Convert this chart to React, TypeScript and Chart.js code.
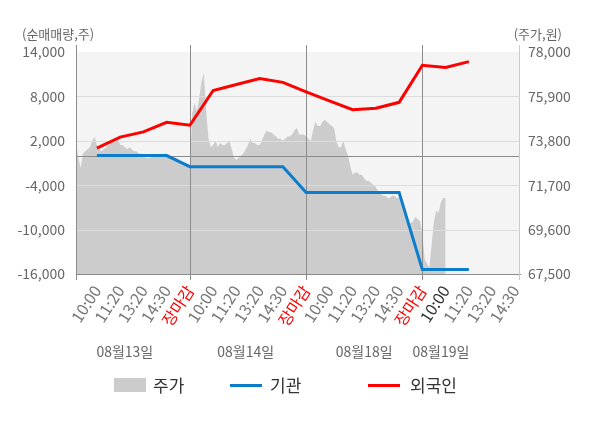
import { useEffect, useRef } from "react";
import { Chart, registerables } from "chart.js";

Chart.register(...registerables);

const FONT = '"Noto Sans CJK KR", "Noto Sans", sans-serif';

// x axis: ticks sit at 1..19, one day = 5 tick steps
const timeLabels = [
  "10:00", "11:20", "13:20", "14:30", "장마감",
  "10:00", "11:20", "13:20", "14:30", "장마감",
  "10:00", "11:20", "13:20", "14:30", "장마감",
  "10:00", "11:20", "13:20", "14:30",
];
const currentTick = 16;
const dayLabels = ["08월13일", "08월14일", "08월18일", "08월19일"];
const dayLabelAt = [2.2, 7.4, 12.5, 15.8];
const dayBreaks = [5, 10, 15];

const volTicks = [-16000, -10000, -4000, 2000, 8000, 14000];
const priceTicks = [67500, 69600, 71700, 73800, 75900, 78000];

// net buying (shares), one value per tick 1..17
const institution = [
  0, 0, 0, 0, -1500, -1500, -1500, -1500, -1500, -5000, -5000, -5000, -5000, -5000,
  -15400, -15400, -15400,
];
const foreign = [
  1000, 2500, 3200, 4500, 4100, 8800, 9600, 10400, 9900, 8600, 7400, 6200, 6400, 7200,
  12200, 11900, 12700,
];

// share price, sampled every 0.1 tick step
const price0813 = [
  73700, 73000, 72500, 73200, 73300, 73400, 73500, 73800, 74000, 73600,
  73400, 73300, 73400, 73500, 73600, 73700, 73800, 73800, 73900, 73600,
  73600, 73500, 73400, 73500, 73400, 73300, 73300, 73200, 73200, 73100,
  73000, 73000, 73000, 73100, 73100, 73100, 73100, 73100, 73200, 73200,
  73100, 73000, 73000, 73000, 72900, 72800, 72700, 72700, 72600, 72600,
];
const price0814 = [
  75100, 75600, 75200, 75800, 76600, 77000, 75200, 73900, 73500, 73600,
  73800, 73500, 73700, 73600, 73600, 73700, 73800, 73400, 73000, 72900,
  73000, 73100, 73200, 73400, 73600, 73900, 73700, 73700, 73600, 73600,
  73800, 74100, 74300, 74200, 74200, 74100, 74000, 73900, 73900, 73800,
  73900, 74000, 74000, 74100, 74300, 74400, 74100, 74100, 74100, 74000,
];
const price0818 = [
  73900, 73800, 74300, 74700, 74500, 74500, 74700, 74800, 74700, 74600,
  74500, 74400, 73800, 73500, 73500, 73800, 73400, 73100, 72600, 72200,
  72300, 72300, 72200, 72200, 72000, 71900, 71900, 71800, 71700, 71600,
  71400, 71300, 71200, 71200, 71100, 71100, 71200, 71200, 71100, 71100,
  70800, 70400, 70100, 69900, 69900, 70000, 70200, 70100, 70000, 69400,
];
const price0819 = [68200, 68000, 67800, 68900, 70000, 70500, 70400, 70900, 71100, 71100];

const priceDays = [price0813, price0814, price0818, price0819];

const legendItems = [
  { label: "주가", color: "#cccccc", kind: "box", x: 114, tx: 153 },
  { label: "기관", color: "#0b7dcb", kind: "line", x: 230, tx: 270 },
  { label: "외국인", color: "#ff0000", kind: "line", x: 368, tx: 410 },
];

const decor = {
  id: "decor",
  beforeDraw(chart: any) {
    const { ctx, chartArea: a } = chart;
    ctx.save();
    ctx.fillStyle = "#f4f4f4";
    ctx.fillRect(a.left, a.top, a.right - a.left, a.bottom - a.top);
    ctx.restore();
  },
  afterDatasetDraw(chart: any, args: any) {
    if (args.index !== 2) return;
    const { ctx, chartArea: a, scales } = chart;
    const line = (x1: number, y1: number, x2: number, y2: number) => {
      ctx.beginPath();
      ctx.moveTo(x1, y1);
      ctx.lineTo(x2, y2);
      ctx.stroke();
    };
    ctx.save();
    ctx.lineWidth = 1;
    ctx.strokeStyle = "#dcdcdc";
    volTicks.slice(1, -1).forEach((v) => {
      const y = Math.round(scales.y.getPixelForValue(v)) + 0.5;
      line(a.left, y, a.right, y);
    });
    ctx.strokeStyle = "#8c8c8c";
    const y0 = Math.round(scales.y.getPixelForValue(0)) + 0.5;
    line(a.left, y0, a.right, y0);
    [a.left, ...dayBreaks.map((v) => scales.x.getPixelForValue(v))].forEach((px) => {
      const x = Math.round(px) + 0.5;
      line(x, a.top - 7, x, a.bottom + 6);
    });
    ctx.strokeStyle = "#cccccc";
    const xr = Math.round(a.right) - 0.5;
    line(xr, a.top - 7, xr, a.bottom + 6);
    ctx.restore();
  },
  afterDraw(chart: any) {
    const { ctx, scales } = chart;
    ctx.save();
    ctx.textBaseline = "middle";
    ctx.fillStyle = "#666666";
    ctx.font = `13px ${FONT}`;
    ctx.textAlign = "left";
    ctx.fillText("(순매매량,주)", 22, 34);
    ctx.textAlign = "right";
    ctx.fillText("(주가,원)", 562, 34);

    ctx.font = `14px ${FONT}`;
    ctx.textAlign = "center";
    dayLabels.forEach((t, i) => {
      ctx.fillText(t, scales.x.getPixelForValue(dayLabelAt[i]), 352);
    });

    ctx.font = `17px ${FONT}`;
    ctx.textAlign = "left";
    legendItems.forEach((it) => {
      if (it.kind === "box") {
        ctx.fillStyle = it.color;
        ctx.fillRect(it.x, 378, 32, 14);
      } else {
        ctx.strokeStyle = it.color;
        ctx.lineWidth = 3;
        ctx.beginPath();
        ctx.moveTo(it.x, 385.5);
        ctx.lineTo(it.x + 32, 385.5);
        ctx.stroke();
      }
      ctx.fillStyle = "#333333";
      ctx.fillText(it.label, it.tx, 386);
    });
    ctx.restore();
  },
};

export default function App() {
  const canvasRef = useRef<HTMLCanvasElement | null>(null);
  const chartRef = useRef<Chart | null>(null);

  useEffect(() => {
    const canvas = canvasRef.current;
    if (!canvas) return;

    const pricePoints = priceDays.flatMap((arr, d) =>
      arr.map((v, i) => ({ x: d * 5 + (i + 1) * 0.1, y: v }))
    );

    chartRef.current?.destroy();
    chartRef.current = new Chart(canvas, {
      type: "line",
      data: {
        datasets: [
          {
            label: "외국인",
            data: foreign.map((v, i) => ({ x: i + 1, y: v })),
            yAxisID: "y",
            borderColor: "#ff0000",
            borderWidth: 3,
            pointRadius: 0,
            fill: false,
            order: 1,
          },
          {
            label: "기관",
            data: institution.map((v, i) => ({ x: i + 1, y: v })),
            yAxisID: "y",
            borderColor: "#0b7dcb",
            borderWidth: 3,
            pointRadius: 0,
            fill: false,
            order: 2,
          },
          {
            label: "주가",
            data: pricePoints,
            yAxisID: "y1",
            borderWidth: 0,
            borderColor: "rgba(0,0,0,0)",
            backgroundColor: "#cccccc",
            pointRadius: 0,
            fill: "start",
            order: 3,
          },
        ],
      },
      options: {
        animation: false,
        responsive: true,
        maintainAspectRatio: false,
        layout: { padding: { top: 52, left: 0, right: 0, bottom: 0 } },
        font: { family: FONT },
        plugins: {
          legend: { display: false },
          tooltip: { enabled: false },
        },
        scales: {
          x: {
            type: "linear",
            min: 0.1,
            max: 19.2,
            grid: { display: false, tickLength: 6 },
            border: { color: "#8c8c8c" },
            afterBuildTicks: (scale: any) => {
              scale.ticks = timeLabels.map((_, i) => ({ value: i + 1 }));
            },
            afterFit: (scale: any) => {
              scale.height = 154;
            },
            ticks: {
              autoSkip: false,
              minRotation: 57,
              maxRotation: 57,
              padding: 2,
              font: { family: FONT, size: 16 },
              color: (c: any) => {
                const lab = timeLabels[c.index];
                if (lab === "장마감") return "#ff0000";
                if (c.index + 1 === currentTick) return "#333333";
                return "#777777";
              },
              callback: (v: any) => timeLabels[Math.round(v) - 1] ?? "",
            },
          },
          y: {
            position: "left",
            min: -16000,
            max: 14000,
            grid: { display: false, tickLength: 8 },
            border: { display: false },
            afterBuildTicks: (scale: any) => {
              scale.ticks = volTicks.map((v) => ({ value: v }));
            },
            afterFit: (scale: any) => {
              scale.width = 76;
            },
            ticks: {
              padding: 3,
              color: "#666666",
              font: { family: FONT, size: 14 },
              callback: (v: any) => Number(v).toLocaleString("en-US"),
            },
          },
          y1: {
            position: "right",
            min: 67500,
            max: 78000,
            grid: { display: false, tickLength: 5 },
            border: { display: false },
            afterBuildTicks: (scale: any) => {
              scale.ticks = priceTicks.map((v) => ({ value: v }));
            },
            afterFit: (scale: any) => {
              scale.width = 80;
            },
            ticks: {
              padding: 3,
              color: "#666666",
              font: { family: FONT, size: 14 },
              callback: (v: any) => Number(v).toLocaleString("en-US"),
            },
          },
        },
      } as any,
      plugins: [decor],
    });

    return () => {
      chartRef.current?.destroy();
      chartRef.current = null;
    };
  }, []);

  return (
    <div style={{ position: "absolute", left: 0, top: 0, width: 600, height: 428, background: "#fff" }}>
      <canvas ref={canvasRef} />
    </div>
  );
}
